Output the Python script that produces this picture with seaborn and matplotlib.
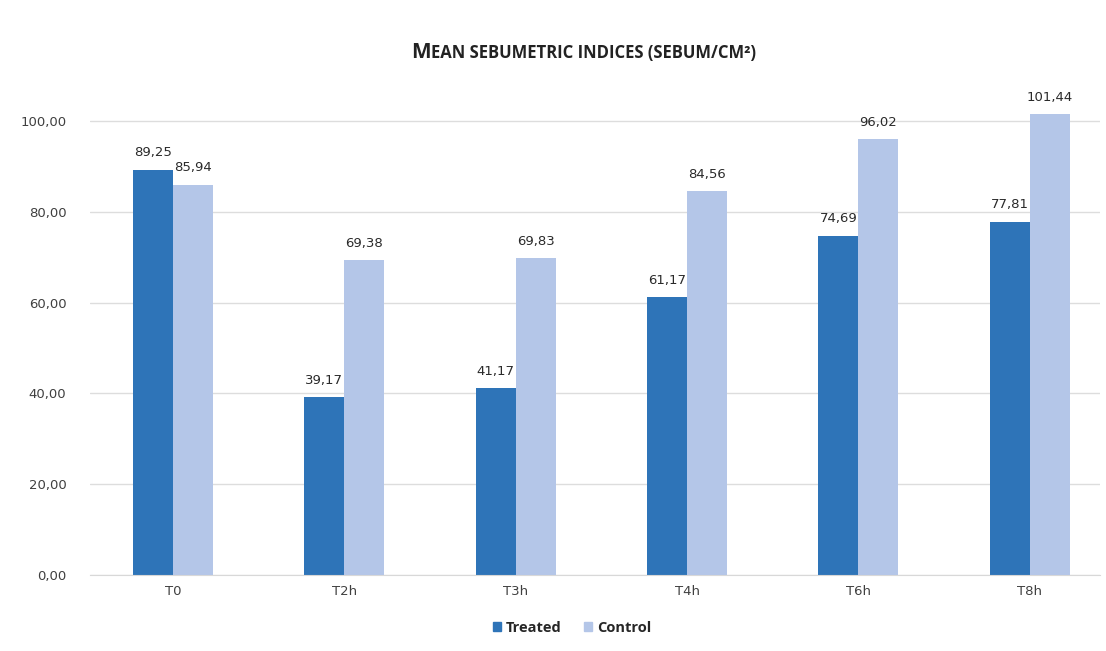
import seaborn as sns
import matplotlib.pyplot as plt
import pandas as pd

# data
times = ['T0', 'T2h', 'T3h', 'T4h', 'T6h', 'T8h']
treated = [89.25, 39.17, 41.17, 61.17, 74.69, 77.81]
control = [85.94, 69.38, 69.83, 84.56, 96.02, 101.44]
yticks = [0, 20, 40, 60, 80, 100]

df = pd.DataFrame({
    'time': times * 2,
    'value': treated + control,
    'group': ['Treated'] * len(times) + ['Control'] * len(times),
})

sns.set_style('white')
plt.rcParams['font.family'] = ['DejaVu Sans']

W, H = 1106, 651
fig = plt.figure(figsize=(W / 100, H / 100), dpi=100)
# axes from x=90 to x=1100 px, y=0 at 575 px, 4.54 px per unit
ax = fig.add_axes([90 / W, 1 - 575 / H, 1010 / W, 104 * 4.54 / H])

colors = {'Treated': '#2e74b8', 'Control': '#b4c6e8'}
sns.barplot(data=df, x='time', y='value', hue='group', palette=colors,
            width=0.467, saturation=1, linewidth=0, ax=ax, legend=False)

# value labels with comma decimals
for cont in ax.containers:
    for bar in cont:
        h = bar.get_height()
        ax.text(bar.get_x() + bar.get_width() / 2, h + 2.3,
                ('%.2f' % h).replace('.', ','), ha='center', va='bottom',
                fontsize=9.5, color='#2a2a2a', clip_on=False)

ax.set_xlim(-0.484, 5.41)
ax.set_ylim(0, 104)
ax.set_yticks(yticks)
ax.set_yticklabels(['%d,00' % v for v in yticks], fontsize=9.5, color='#404040')
ax.tick_params(axis='x', labelsize=9.5, labelcolor='#404040', length=0, pad=7)
ax.tick_params(axis='y', length=0, pad=17)
ax.set_xlabel('')
ax.set_ylabel('')
ax.yaxis.grid(True, color='#dddddd', linewidth=1)
ax.set_axisbelow(True)
for s in ['top', 'right', 'left']:
    ax.spines[s].set_visible(False)
ax.spines['bottom'].set_color('#d8d8d8')

# small caps style title: big M followed by smaller capitals
tfont = ['Open Sans', 'DejaVu Sans']
ty = 1 - 58 / H
m = fig.text(411 / W, ty, 'M', fontsize=15, fontweight='bold', family=tfont,
             color='#222222', ha='left', va='baseline')
fig.canvas.draw()
bb = m.get_window_extent()
fig.text(bb.x1 / W + 0.0005, ty, 'EAN SEBUMETRIC INDICES (SEBUM/CM²)', fontsize=12,
         fontweight='bold', family=tfont, color='#222222', ha='left', va='baseline')

# legend
handles = [plt.Rectangle((0, 0), 1, 1, color=colors[g]) for g in ['Treated', 'Control']]
fig.legend(handles, ['Treated', 'Control'], loc='center', bbox_to_anchor=(572 / W, 1 - 628 / H),
           ncol=2, frameon=False, handlelength=0.55, handleheight=0.55, handletextpad=0.3,
           columnspacing=1.6, prop={'weight': 'bold', 'size': 10.5, 'family': tfont})

fig.savefig('out.png', dpi=100)
